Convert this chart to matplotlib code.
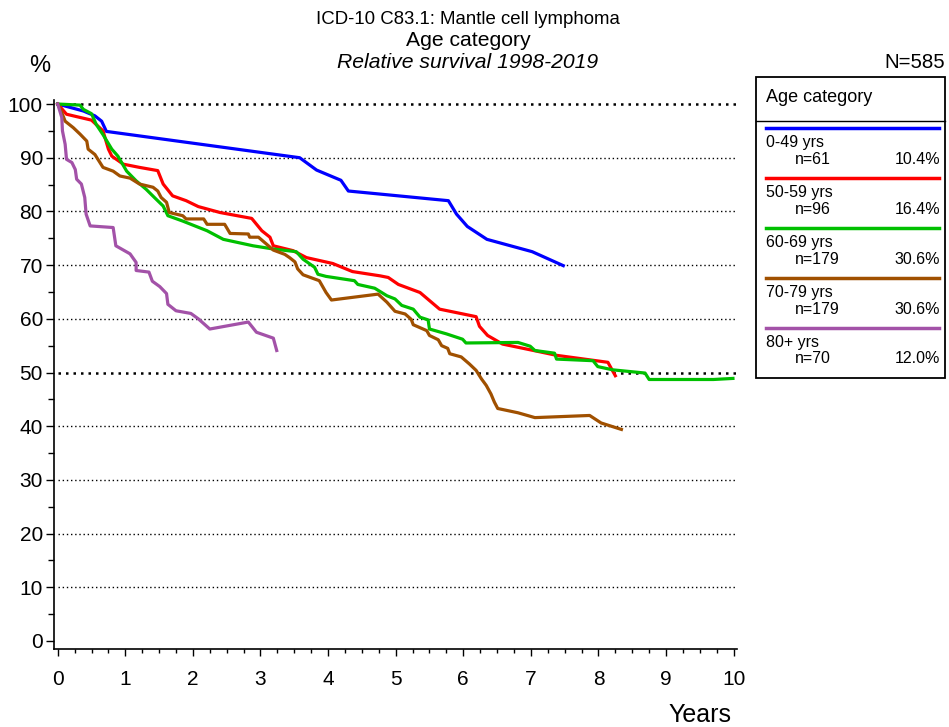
import matplotlib
matplotlib.use("Agg")
import matplotlib.pyplot as plt
from matplotlib.ticker import MultipleLocator
from matplotlib.lines import Line2D
from matplotlib.patches import Rectangle

plt.rcParams['font.family'] = ['Liberation Sans', 'DejaVu Sans']

# ---------------------------
# Data
# ---------------------------
groups = ["0-49 yrs", "50-59 yrs", "60-69 yrs", "70-79 yrs", "80+ yrs"]
counts = ["n=61", "n=96", "n=179", "n=179", "n=70"]
shares = ["10.4%", "16.4%", "30.6%", "30.6%", "12.0%"]
colors = ["#0000ff", "#ff0000", "#00c000", "#a05000", "#a352a8"]

t_0_49 = [0, 0.38, 0.55, 0.65, 0.72, 3.58, 3.83, 4.19, 4.30, 5.78, 5.90, 6.06, 6.35, 7.02, 7.48]
s_0_49 = [100, 98.7, 97.8, 96.8, 94.9, 90.0, 87.7, 85.8, 83.8, 82.0, 79.5, 77.2, 74.8, 72.5, 69.9]

t_50_59 = [0, 0.13, 0.23, 0.50, 0.67, 0.75, 0.80, 0.97, 1.21, 1.48, 1.56, 1.70, 1.90, 2.08,
           2.40, 2.87, 3.02, 3.14, 3.19, 3.48, 3.68, 4.07, 4.36, 4.77, 4.89, 5.04, 5.36,
           5.65, 6.19, 6.24, 6.36, 6.58, 7.04, 7.38, 8.14, 8.25]
s_50_59 = [100, 98.1, 97.8, 97.0, 95.0, 91.6, 90.3, 88.8, 88.2, 87.6, 85.1, 82.9, 82.0, 80.9,
           79.8, 78.7, 76.4, 75.2, 73.6, 72.7, 71.4, 70.3, 68.8, 68.0, 67.7, 66.4, 64.9,
           61.8, 60.4, 58.6, 56.9, 55.3, 54.1, 53.2, 51.9, 49.4]

t_60_69 = [0, 0.33, 0.38, 0.50, 0.57, 0.67, 0.80, 0.89, 1.02, 1.16, 1.31, 1.43, 1.56, 1.63,
           1.85, 2.21, 2.45, 2.89, 3.19, 3.53, 3.63, 3.80, 3.85, 3.97, 4.39, 4.44, 4.69,
           4.87, 4.99, 5.09, 5.26, 5.36, 5.48, 5.50, 5.75, 5.99, 6.04, 6.81, 6.99, 7.06,
           7.35, 7.38, 7.92, 7.99, 8.21, 8.69, 8.75, 9.70, 9.99]
s_60_69 = [100, 99.8, 99.0, 98.2, 96.2, 94.3, 91.6, 90.3, 87.5, 85.7, 84.1, 82.6, 81.0, 79.2,
           78.2, 76.4, 74.8, 73.6, 73.0, 72.5, 71.1, 69.6, 68.3, 67.9, 67.1, 66.4, 65.7,
           64.3, 63.7, 62.5, 61.8, 60.3, 59.8, 58.1, 57.2, 56.2, 55.5, 55.6, 54.9, 54.1,
           53.6, 52.5, 52.2, 51.1, 50.5, 49.9, 48.7, 48.7, 48.9]

t_70_79 = [0, 0.06, 0.11, 0.23, 0.33, 0.43, 0.45, 0.55, 0.67, 0.82, 0.92, 1.07, 1.21, 1.41,
           1.48, 1.53, 1.61, 1.65, 1.85, 1.90, 2.16, 2.21, 2.47, 2.55, 2.82, 2.84, 2.97,
           3.09, 3.19, 3.36, 3.43, 3.51, 3.55, 3.63, 3.87, 3.97, 4.05, 4.74, 4.87, 4.99,
           5.14, 5.23, 5.26, 5.46, 5.50, 5.63, 5.68, 5.77, 5.80, 5.97, 6.09, 6.19, 6.27,
           6.34, 6.41, 6.46, 6.51, 6.81, 7.06, 7.87, 8.04, 8.34]
s_70_79 = [100, 98.4, 96.8, 95.6, 94.4, 93.1, 91.6, 90.6, 88.2, 87.5, 86.6, 86.2, 85.1, 84.5,
           83.8, 82.6, 81.7, 79.8, 79.2, 78.6, 78.6, 77.6, 77.6, 75.9, 75.8, 75.2, 75.2,
           73.9, 72.8, 72.0, 71.4, 70.6, 69.3, 68.2, 67.1, 64.9, 63.5, 64.6, 63.1, 61.4,
           60.9, 59.9, 58.9, 57.8, 56.9, 56.1, 55.0, 54.5, 53.5, 52.9, 51.6, 50.4, 48.8,
           47.6, 46.0, 44.5, 43.3, 42.5, 41.6, 42.0, 40.6, 39.4]

t_80 = [0, 0.06, 0.07, 0.11, 0.13, 0.21, 0.26, 0.28, 0.35, 0.40, 0.42, 0.48, 0.82, 0.86,
        1.07, 1.16, 1.16, 1.35, 1.40, 1.51, 1.61, 1.63, 1.75, 1.97, 2.08, 2.25, 2.82,
        2.94, 3.19, 3.24]
s_80 = [100, 97.5, 95.0, 92.5, 89.7, 89.1, 87.8, 86.0, 85.1, 82.6, 79.5, 77.3, 77.0, 73.6,
        72.1, 70.5, 69.0, 68.7, 67.0, 66.0, 64.7, 62.7, 61.5, 61.0, 60.0, 58.1, 59.4,
        57.5, 56.4, 54.1]

times = [t_0_49, t_50_59, t_60_69, t_70_79, t_80]
survival = [s_0_49, s_50_59, s_60_69, s_70_79, s_80]

# ---------------------------
# Figure and axes
# ---------------------------
W, H = 949.0, 727.0
fig = plt.figure(figsize=(9.49, 7.27), dpi=100)
ax = fig.add_axes([54 / W, 1 - 649 / H, 683 / W, 549 / H])

ax.set_xlim(-0.055, 10.05)
ax.set_ylim(-1.49, 100.75)

# dotted reference lines
for yv in range(10, 101, 10):
    lw = 1.8 if yv in (50, 100) else 1.0
    ax.plot([0, 10.05], [yv, yv], color="black", linestyle=(0, (1, 2)), lw=lw, zorder=1)

for t, s, c in zip(times, survival, colors):
    ax.plot(t, s, color=c, lw=2.3, solid_joinstyle="round", zorder=3)

ax.spines["top"].set_visible(False)
ax.spines["right"].set_visible(False)
ax.spines["left"].set_linewidth(1.2)
ax.spines["bottom"].set_linewidth(1.2)

ax.xaxis.set_major_locator(MultipleLocator(1))
ax.xaxis.set_minor_locator(MultipleLocator(0.25))
ax.yaxis.set_major_locator(MultipleLocator(10))
ax.yaxis.set_minor_locator(MultipleLocator(5))
ax.tick_params(axis="x", which="major", length=5, width=1, labelsize=15, pad=10)
ax.tick_params(axis="x", which="minor", length=3, width=1)
ax.tick_params(axis="y", which="major", length=6, width=1, labelsize=15, pad=2)
ax.tick_params(axis="y", which="minor", length=4, width=1)

# ---------------------------
# Titles and labels
# ---------------------------
cx = 468 / W
fig.text(cx, 1 - 19 / H, "ICD-10 C83.1: Mantle cell lymphoma", ha="center", va="center", fontsize=13.4)
fig.text(cx, 1 - 40 / H, "Age category", ha="center", va="center", fontsize=15.2)
fig.text(cx, 1 - 62 / H, "Relative survival 1998-2019", ha="center", va="center",
         fontsize=15.2, style="italic")
fig.text(40 / W, 1 - 66 / H, "%", ha="center", va="center", fontsize=17)
fig.text(945 / W, 1 - 62 / H, "N=585", ha="right", va="center", fontsize=14.7)
fig.text(700 / W, 1 - 715 / H, "Years", ha="center", va="center", fontsize=18)

# ---------------------------
# Legend box
# ---------------------------
fig.patches.append(Rectangle((756 / W, 1 - 378 / H), (945 - 756) / W, (378 - 77) / H,
                             transform=fig.transFigure, fill=False, edgecolor="black", lw=1.3))
fig.lines.append(Line2D([756 / W, 945 / W], [1 - 121 / H, 1 - 121 / H],
                        transform=fig.transFigure, color="black", lw=1.0))
fig.text(766 / W, 1 - 98 / H, "Age category", ha="left", va="center", fontsize=13)

for i, (g, n, p, c) in enumerate(zip(groups, counts, shares, colors)):
    y0 = 128 + i * 50
    fig.lines.append(Line2D([766 / W, 939 / W], [1 - y0 / H, 1 - y0 / H],
                            transform=fig.transFigure, color=c, lw=2.5))
    fig.text(766 / W, 1 - (y0 + 15) / H, g, ha="left", va="center", fontsize=11.5)
    fig.text(795 / W, 1 - (y0 + 31) / H, n, ha="left", va="center", fontsize=11.5)
    fig.text(940 / W, 1 - (y0 + 31) / H, p, ha="right", va="center", fontsize=11.5)

fig.savefig("out.png", dpi=100)
